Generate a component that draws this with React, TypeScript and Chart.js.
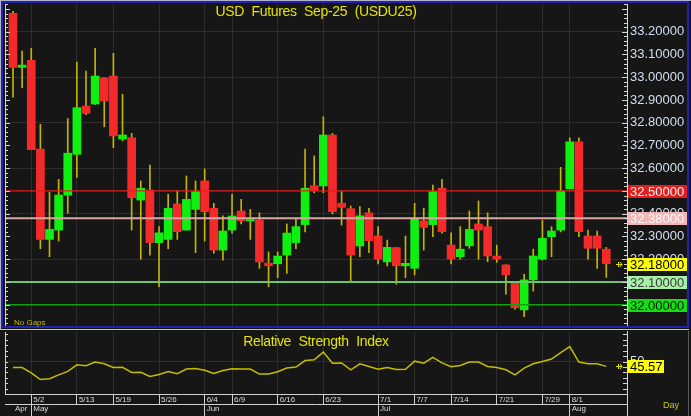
import React, { useEffect, useRef } from 'react';
import { Chart, registerables } from 'chart.js';

Chart.register(...registerables);

// ---------------- data ----------------
const dates = [
  '4/29', '4/30', '5/2', '5/6', '5/7', '5/8', '5/9', '5/13', '5/14', '5/15', '5/16', '5/19', '5/20', '5/21', '5/22', '5/23',
  '5/26', '5/27', '5/28', '5/29', '5/30', '6/4', '6/5', '6/6', '6/9', '6/10', '6/11', '6/12', '6/13', '6/16', '6/17', '6/18',
  '6/19', '6/20', '6/23', '6/24', '6/25', '6/26', '6/27', '6/30', '7/1', '7/2', '7/3', '7/4', '7/7', '7/8', '7/9', '7/11',
  '7/14', '7/15', '7/16', '7/17', '7/18', '7/21', '7/22', '7/23', '7/24', '7/25', '7/29', '7/30', '7/31', '8/1', '8/4', '8/5',
  '8/6', '8/7',
];

const opens = [
  33.281, 33.043, 33.074, 32.684, 32.287, 32.328, 32.481, 32.661, 32.873, 32.882, 32.998, 33.005, 32.728, 32.734, 32.460, 32.504,
  32.273, 32.287, 32.443, 32.328, 32.419, 32.544, 32.424, 32.240, 32.328, 32.412, 32.368, 32.372, 32.183, 32.180, 32.218, 32.273,
  32.352, 32.523, 32.522, 32.746, 32.446, 32.422, 32.258, 32.404, 32.302, 32.188, 32.251, 32.171, 32.160, 32.369, 32.352, 32.512,
  32.262, 32.211, 32.259, 32.355, 32.343, 32.214, 32.175, 32.101, 31.977, 32.109, 32.200, 32.299, 32.328, 32.509, 32.716, 32.302,
  32.302, 32.244,
];
const highs = [
  33.290, 33.115, 33.127, 32.793, 32.495, 32.551, 32.818, 33.067, 33.027, 33.127, 32.998, 33.105, 32.925, 32.753, 32.544, 32.614,
  32.343, 32.485, 32.501, 32.566, 32.544, 32.597, 32.446, 32.391, 32.485, 32.463, 32.419, 32.404, 32.232, 32.232, 32.355, 32.380,
  32.684, 32.654, 32.826, 32.753, 32.497, 32.434, 32.431, 32.424, 32.343, 32.284, 32.251, 32.302, 32.446, 32.424, 32.526, 32.551,
  32.316, 32.343, 32.412, 32.456, 32.404, 32.262, 32.175, 32.101, 32.134, 32.244, 32.372, 32.343, 32.604, 32.734, 32.734, 32.328,
  32.324, 32.252,
];
const lows = [
  32.912, 32.954, 32.681, 32.246, 32.211, 32.280, 32.402, 32.560, 32.835, 32.880, 32.782, 32.690, 32.720, 32.328, 32.200, 32.218,
  32.079, 32.246, 32.287, 32.328, 32.229, 32.280, 32.226, 32.196, 32.314, 32.355, 32.287, 32.160, 32.079, 32.119, 32.138, 32.246,
  32.320, 32.492, 32.492, 32.399, 32.350, 32.104, 32.211, 32.229, 32.179, 32.170, 32.090, 32.119, 32.131, 32.240, 32.299, 32.314,
  32.179, 32.200, 32.248, 32.200, 32.189, 32.186, 32.046, 31.980, 31.947, 32.060, 32.196, 32.211, 32.320, 32.509, 32.299, 32.200,
  32.160, 32.120,
];
const closes = [
  33.043, 33.053, 32.681, 32.287, 32.331, 32.482, 32.666, 32.866, 32.841, 33.005, 32.895, 32.742, 32.746, 32.470, 32.512, 32.273,
  32.316, 32.424, 32.321, 32.463, 32.497, 32.409, 32.240, 32.324, 32.390, 32.368, 32.374, 32.188, 32.171, 32.214, 32.315, 32.343,
  32.512, 32.501, 32.746, 32.409, 32.428, 32.218, 32.391, 32.281, 32.200, 32.252, 32.171, 32.182, 32.380, 32.340, 32.497, 32.321,
  32.201, 32.244, 32.331, 32.328, 32.214, 32.201, 32.131, 31.987, 32.109, 32.214, 32.292, 32.324, 32.501, 32.716, 32.321, 32.248,
  32.248, 32.180,
];

const rsiValues = [
  44.5, 44.5, 39.7, 33.5, 34.2, 37.8, 41.0, 47.0, 46.1, 49.5, 47.9, 44.5, 44.7, 40.0, 40.1, 36.3,
  38.2, 40.9, 38.8, 43.1, 43.6, 42.0, 39.1, 41.7, 43.3, 43.1, 43.1, 38.5, 38.5, 40.6, 44.0, 44.9,
  50.9, 51.6, 58.6, 48.5, 48.7, 42.4, 47.9, 45.4, 42.9, 44.6, 42.8, 42.9, 50.3, 48.5, 53.7, 48.8,
  45.2, 46.3, 49.5, 49.5, 45.4, 44.5, 42.4, 37.8, 44.0, 47.9, 50.0, 52.2, 58.2, 63.7, 49.5, 47.9,
  47.9, 45.57,
];

const dateTickLabels = ['5/2', '5/13', '5/19', '5/26', '6/4', '6/9', '6/16', '6/23', '7/1', '7/7', '7/14', '7/21', '7/29', '8/1'];
const monthTickDates = ['4/29', '5/2', '6/4', '7/1', '8/1'];
const monthLabels = ['Apr', 'May', 'Jun', 'Jul', 'Aug'];

const priceTicks = [32.0, 32.1, 32.2, 32.3, 32.4, 32.5, 32.6, 32.7, 32.8, 32.9, 33.0, 33.1, 33.2];
const rsiTicks = [50];
const levelValues = [32.5, 32.38, 32.1, 32.0];

// ---------------- styles ----------------
const FONT = 'Arial, "Liberation Sans", sans-serif';
const levelStyles = [
  { line: '#e41c1c', width: 1.2, box: '#e21e1e', text: '#f2f2f2' },
  { line: '#d9a6a6', width: 2, box: '#f2b6b6', text: '#fafafa' },
  { line: '#6cc46c', width: 2, box: '#a8f0a8', text: '#3a3a3a' },
  { line: '#12a012', width: 1.5, box: '#12e012', text: '#101010' },
];
const X_MIN = -0.876;
const X_MAX = 67.27;

const dateTickIdx = dateTickLabels.map((d) => dates.indexOf(d));
const monthTickIdx = monthTickDates.map((d) => dates.indexOf(d));

const noPad = (s: any) => {
  s.paddingTop = 0;
  s.paddingBottom = 0;
  s.paddingLeft = 0;
  s.paddingRight = 0;
};

const drawArrow = (ctx: CanvasRenderingContext2D, x: number, y: number) => {
  ctx.strokeStyle = '#e0e000';
  ctx.lineWidth = 1;
  ctx.beginPath();
  ctx.moveTo(x - 4, y + 0.5);
  ctx.lineTo(x + 2, y + 0.5);
  ctx.moveTo(x - 1.5, y - 2);
  ctx.lineTo(x - 1.5, y + 3);
  ctx.moveTo(x, y - 2);
  ctx.lineTo(x + 2, y + 0.5);
  ctx.lineTo(x, y + 3);
  ctx.stroke();
};

const mainDecor = {
  id: 'mainDecor',
  afterDraw(chart: any) {
    const { ctx, chartArea } = chart;
    const { left, right, top, bottom } = chartArea;
    const y = chart.scales.y;
    ctx.save();
    ctx.strokeStyle = '#d4d4d4';
    ctx.lineWidth = 1;
    ctx.beginPath();
    ctx.moveTo(left + 0.5, top);
    ctx.lineTo(left + 0.5, bottom);
    for (let k = 1590; k <= 1670; k++) {
      const py = Math.round(y.getPixelForValue(k / 50)) + 0.5;
      if (py < top || py > bottom) continue;
      const len = k % 5 === 0 ? 5 : 3;
      ctx.moveTo(left, py);
      ctx.lineTo(left + len, py);
      ctx.moveTo(right - len, py);
      ctx.lineTo(right, py);
    }
    ctx.stroke();

    const last = closes[closes.length - 1];
    const boxes = [
      ...levelValues.map((v, i) => ({ v, bg: levelStyles[i].box, fg: levelStyles[i].text })),
      { v: last, bg: '#ffff00', fg: '#000000' },
    ];
    ctx.font = `13px ${FONT}`;
    ctx.textBaseline = 'middle';
    ctx.textAlign = 'left';
    for (const b of boxes) {
      const py = y.getPixelForValue(b.v);
      ctx.fillStyle = b.bg;
      ctx.fillRect(right + 1, Math.round(py) - 6, 59, 13);
      ctx.fillStyle = b.fg;
      ctx.fillText(b.v.toFixed(5), right + 3, Math.round(py) + 1);
    }
    drawArrow(ctx, 620, Math.round(y.getPixelForValue(last)));
    ctx.restore();
  },
};

const rsiDecor = {
  id: 'rsiDecor',
  afterDraw(chart: any) {
    const { ctx, chartArea } = chart;
    const { left, right, top, bottom } = chartArea;
    const y = chart.scales.y;
    ctx.save();
    ctx.strokeStyle = '#d4d4d4';
    ctx.lineWidth = 1;
    ctx.beginPath();
    ctx.moveTo(left + 0.5, top);
    ctx.lineTo(left + 0.5, bottom);
    ctx.moveTo(right + 0.5, 0);
    ctx.lineTo(right + 0.5, chart.height);
    for (let v = 25; v <= 75; v += 5) {
      const py = Math.round(y.getPixelForValue(v)) + 0.5;
      ctx.moveTo(left, py);
      ctx.lineTo(left + 3, py);
      ctx.moveTo(right - 4, py);
      ctx.lineTo(right, py);
    }
    ctx.stroke();
    const last = rsiValues[rsiValues.length - 1];
    const py = Math.round(y.getPixelForValue(last));
    ctx.fillStyle = '#ffff00';
    ctx.fillRect(right + 1, py - 6, 36, 13);
    ctx.fillStyle = '#000000';
    ctx.font = `13px ${FONT}`;
    ctx.textBaseline = 'middle';
    ctx.textAlign = 'left';
    ctx.fillText(last.toFixed(2), right + 3, py + 1);
    drawArrow(ctx, 620, py);
    ctx.restore();
  },
};

export default function App() {
  const mainRef = useRef<HTMLCanvasElement>(null);
  const rsiRef = useRef<HTMLCanvasElement>(null);

  useEffect(() => {
    document.body.style.margin = '0';
    Chart.defaults.font.family = FONT;

    const levelDatasets = levelValues.map((v, i) => ({
      type: 'line' as const,
      data: [{ x: X_MIN, y: v }, { x: X_MAX, y: v }],
      borderColor: levelStyles[i].line,
      borderWidth: levelStyles[i].width,
      pointRadius: 0,
      order: 0,
    }));

    const main = new Chart(mainRef.current as HTMLCanvasElement, {
      type: 'bar',
      data: {
        datasets: [
          ...levelDatasets,
          {
            type: 'bar',
            data: dates.map((_, i) => ({ x: i, y: [opens[i], closes[i]] })),
            backgroundColor: (c: any) => (closes[c.dataIndex] >= opens[c.dataIndex] ? '#10f010' : '#f42a2a'),
            barThickness: 8,
            grouped: false,
            order: 1,
          },
          {
            type: 'bar',
            data: dates.map((_, i) => ({ x: i, y: [lows[i], highs[i]] })),
            backgroundColor: '#c2b400',
            barThickness: 1,
            grouped: false,
            order: 2,
          },
        ] as any,
      },
      options: {
        responsive: false,
        animation: false,
        events: [],
        layout: { padding: { left: 5, top: 4, right: 0, bottom: 3 } },
        plugins: { legend: { display: false }, tooltip: { enabled: false } },
        scales: {
          x: {
            type: 'linear',
            min: X_MIN,
            max: X_MAX,
            offset: false,
            bounds: 'data',
            afterBuildTicks: (s: any) => {
              s.ticks = dateTickIdx.map((v) => ({ value: v }));
            },
            afterFit: (s: any) => {
              s.height = 0;
              noPad(s);
            },
            ticks: { display: false },
            grid: { color: '#2e2e2e', drawTicks: false, offset: false },
            border: { display: false },
          },
          y: {
            type: 'linear',
            position: 'right',
            min: 31.9064,
            max: 33.3218,
            bounds: 'data',
            afterBuildTicks: (s: any) => {
              s.ticks = priceTicks.map((v) => ({ value: v }));
            },
            afterFit: (s: any) => {
              s.width = 64;
              noPad(s);
            },
            ticks: {
              callback: (v: any) => Number(v).toFixed(5),
              color: '#d2def0',
              font: { size: 13, family: FONT },
              padding: 3,
              autoSkip: false,
            },
            grid: {
              drawTicks: false,
              color: (c: any) =>
                c.tick && Math.round(c.tick.value * 10) % 2 === 0 ? '#2e2e2e' : 'rgba(0,0,0,0)',
            },
            border: { color: '#d4d4d4', width: 1 },
          },
        },
      } as any,
      plugins: [mainDecor],
    });

    const rsi = new Chart(rsiRef.current as HTMLCanvasElement, {
      type: 'line',
      data: {
        datasets: [
          {
            data: rsiValues.map((v, i) => ({ x: i, y: v })),
            borderColor: '#c4bc00',
            borderWidth: 1.5,
            pointRadius: 0,
            tension: 0,
          },
        ],
      },
      options: {
        responsive: false,
        animation: false,
        events: [],
        layout: { padding: { left: 5, top: 1, right: 0, bottom: 0 } },
        plugins: { legend: { display: false }, tooltip: { enabled: false } },
        scales: {
          x: {
            type: 'linear',
            position: 'bottom',
            min: X_MIN,
            max: X_MAX,
            bounds: 'data',
            weight: 0,
            afterBuildTicks: (s: any) => {
              s.ticks = dateTickIdx.map((v) => ({ value: v }));
            },
            afterFit: (s: any) => {
              s.height = 10;
              noPad(s);
            },
            ticks: {
              callback: (_v: any, i: number) => dateTickLabels[i],
              color: '#dcdcdc',
              font: { size: 8, family: FONT },
              align: 'start',
              labelOffset: 2,
              padding: -9,
              maxRotation: 0,
              minRotation: 0,
              autoSkip: false,
            },
            grid: { color: '#2e2e2e', tickColor: '#d0d0d0', tickLength: 10, drawTicks: true },
            border: { color: '#d0d0d0', width: 1 },
          },
          m: {
            type: 'linear',
            axis: 'x',
            position: 'bottom',
            min: X_MIN,
            max: X_MAX,
            bounds: 'data',
            weight: 1,
            afterBuildTicks: (s: any) => {
              s.ticks = monthTickIdx.map((v) => ({ value: v }));
            },
            afterFit: (s: any) => {
              s.height = 12;
              noPad(s);
            },
            ticks: {
              callback: (_v: any, i: number) => monthLabels[i],
              color: '#dcdcdc',
              font: { size: 8, family: FONT },
              align: 'start',
              labelOffset: 2,
              padding: -12,
              maxRotation: 0,
              minRotation: 0,
              autoSkip: false,
            },
            grid: {
              drawOnChartArea: false,
              tickLength: 12,
              tickColor: (c: any) => (c.index === 0 ? 'rgba(0,0,0,0)' : '#d0d0d0'),
            },
            border: { color: '#d0d0d0', width: 1 },
          },
          y: {
            type: 'linear',
            position: 'right',
            min: 20.3,
            max: 76.97,
            bounds: 'data',
            afterBuildTicks: (s: any) => {
              s.ticks = rsiTicks.map((v) => ({ value: v }));
            },
            afterFit: (s: any) => {
              s.width = 64;
              noPad(s);
            },
            ticks: {
              color: '#d2def0',
              font: { size: 13, family: FONT },
              padding: 3,
            },
            grid: { color: '#2e2e2e', drawTicks: false },
            border: { color: '#d4d4d4', width: 1 },
          },
        },
      } as any,
      plugins: [rsiDecor],
    });

    return () => {
      main.destroy();
      rsi.destroy();
    };
  }, []);

  const titleStyle: React.CSSProperties = {
    position: 'absolute',
    left: 5,
    width: 622,
    textAlign: 'center',
    font: `14px ${FONT}`,
    lineHeight: '16px',
    letterSpacing: '-0.35px',
    wordSpacing: '4px',
    color: '#e4e400',
    whiteSpace: 'nowrap',
  };

  return (
    <div style={{ position: 'relative', width: 691, height: 416, background: '#161616', overflow: 'hidden' }}>
      <canvas ref={mainRef} width={691} height={329} style={{ position: 'absolute', left: 0, top: 0, background: '#161616' }} />
      <canvas ref={rsiRef} width={691} height={85} style={{ position: 'absolute', left: 0, top: 331, background: '#161616' }} />
      <div style={{ position: 'absolute', left: 0, top: 0, width: 691, height: 1, background: '#b4b4c8' }} />
      <div style={{ position: 'absolute', left: 0, top: 0, width: 1, height: 329, background: '#b4b4c8' }} />
      <div
        style={{
          position: 'absolute',
          left: 1,
          top: 1,
          width: 688,
          height: 327,
          boxSizing: 'border-box',
          border: '2px solid #2222b2',
          pointerEvents: 'none',
        }}
      />
      <div style={{ position: 'absolute', left: 0, top: 329, width: 689, height: 1, background: '#c4c4c4' }} />
      <div style={{ position: 'absolute', left: 688, top: 331, width: 1, height: 85, background: '#5a5a5a' }} />
      <div style={{ ...titleStyle, top: 3 }}>USD Futures Sep-25 (USDU25)</div>
      <div style={{ ...titleStyle, top: 333 }}>Relative Strength Index</div>
      <div style={{ position: 'absolute', left: 14, top: 318, font: `8px ${FONT}`, lineHeight: '10px', color: '#bcbc00' }}>No Gaps</div>
      <div style={{ position: 'absolute', left: 663, top: 400, font: `9px ${FONT}`, lineHeight: '11px', color: '#c8c800' }}>Day</div>
    </div>
  );
}
